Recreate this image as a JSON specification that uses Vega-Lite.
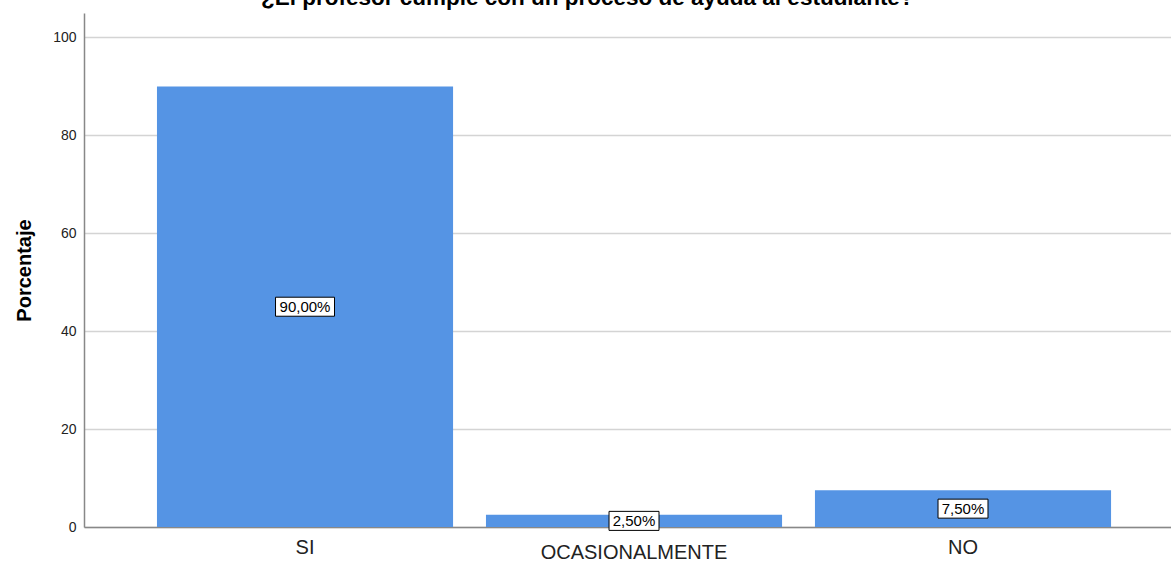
{
  "$schema": "https://vega.github.io/schema/vega-lite/v6.json",
  "width": 1087,
  "height": 514,
  "autosize": "none",
  "padding": {"left": 84, "top": 13, "right": 0, "bottom": 36},
  "background": "white",
  "config": {"font": "Liberation Sans", "view": {"stroke": null}},
  "title": {
    "text": "¿El profesor cumple con un proceso de ayuda al estudiante?",
    "anchor": "start",
    "frame": "group",
    "dx": 177,
    "baseline": "alphabetic",
    "offset": -14,
    "fontSize": 22.5,
    "fontWeight": "bold",
    "color": "#000000",
    "font": "Liberation Sans"
  },
  "data": {
    "values": [
      {"cat": "SI", "pct": 90, "label": "90,00%"},
      {"cat": "OCASIONALMENTE", "pct": 2.5, "label": "2,50%"},
      {"cat": "NO", "pct": 7.5, "label": "7,50%"}
    ]
  },
  "transform": [{"calculate": "datum.pct / 2", "as": "mid"}],
  "encoding": {
    "x": {
      "field": "cat",
      "type": "nominal",
      "sort": ["SI", "OCASIONALMENTE", "NO"],
      "scale": {"paddingInner": 0.1, "paddingOuter": 0.202, "align": 0.549},
      "axis": {
        "title": null,
        "labelAngle": 0,
        "labelLimit": 0,
        "ticks": false,
        "grid": false,
        "domainColor": "#888888",
        "domainWidth": 1.5,
        "labelFontSize": 20,
        "labelColor": "#222222",
        "labelBaseline": "top",
        "labelPadding": {"condition": {"test": "datum.value === 'OCASIONALMENTE'", "value": 15}, "value": 10}
      }
    }
  },
  "layer": [
    {
      "mark": {"type": "bar", "color": "#5594e4"},
      "encoding": {
        "y": {
          "field": "pct",
          "type": "quantitative",
          "scale": {"domain": [0, 105], "nice": false},
          "axis": {
            "title": "Porcentaje",
            "titleFontSize": 20,
            "titleFontWeight": "bold",
            "titleColor": "#000000",
            "titlePadding": 18,
            "values": [0, 20, 40, 60, 80, 100],
            "ticks": false,
            "labelPadding": 8,
            "labelFontSize": 14,
            "labelColor": "#222222",
            "gridColor": "#d4d4d4",
            "gridWidth": 1.5,
            "domainColor": "#888888",
            "domainWidth": 1.5
          }
        }
      }
    },
    {
      "mark": {"type": "point", "filled": true, "fill": "white", "stroke": "black", "strokeWidth": 1, "opacity": 1, "size": 3600},
      "encoding": {
        "y": {"field": "mid", "type": "quantitative", "scale": {"domain": [0, 105], "nice": false}},
        "shape": {
          "field": "cat",
          "type": "nominal",
          "scale": {
            "domain": ["SI", "OCASIONALMENTE", "NO"],
            "range": [
              "M-0.983,-0.317L0.983,-0.317L0.983,0.317L-0.983,0.317Z",
              "M-0.833,-0.317L0.833,-0.317L0.833,0.317L-0.833,0.317Z",
              "M-0.833,-0.317L0.833,-0.317L0.833,0.317L-0.833,0.317Z"
            ]
          },
          "legend": null
        }
      }
    },
    {
      "mark": {"type": "text", "fontSize": 15, "color": "#000000", "baseline": "middle", "align": "center"},
      "encoding": {
        "y": {"field": "mid", "type": "quantitative", "scale": {"domain": [0, 105], "nice": false}},
        "text": {"field": "label"}
      }
    }
  ]
}
